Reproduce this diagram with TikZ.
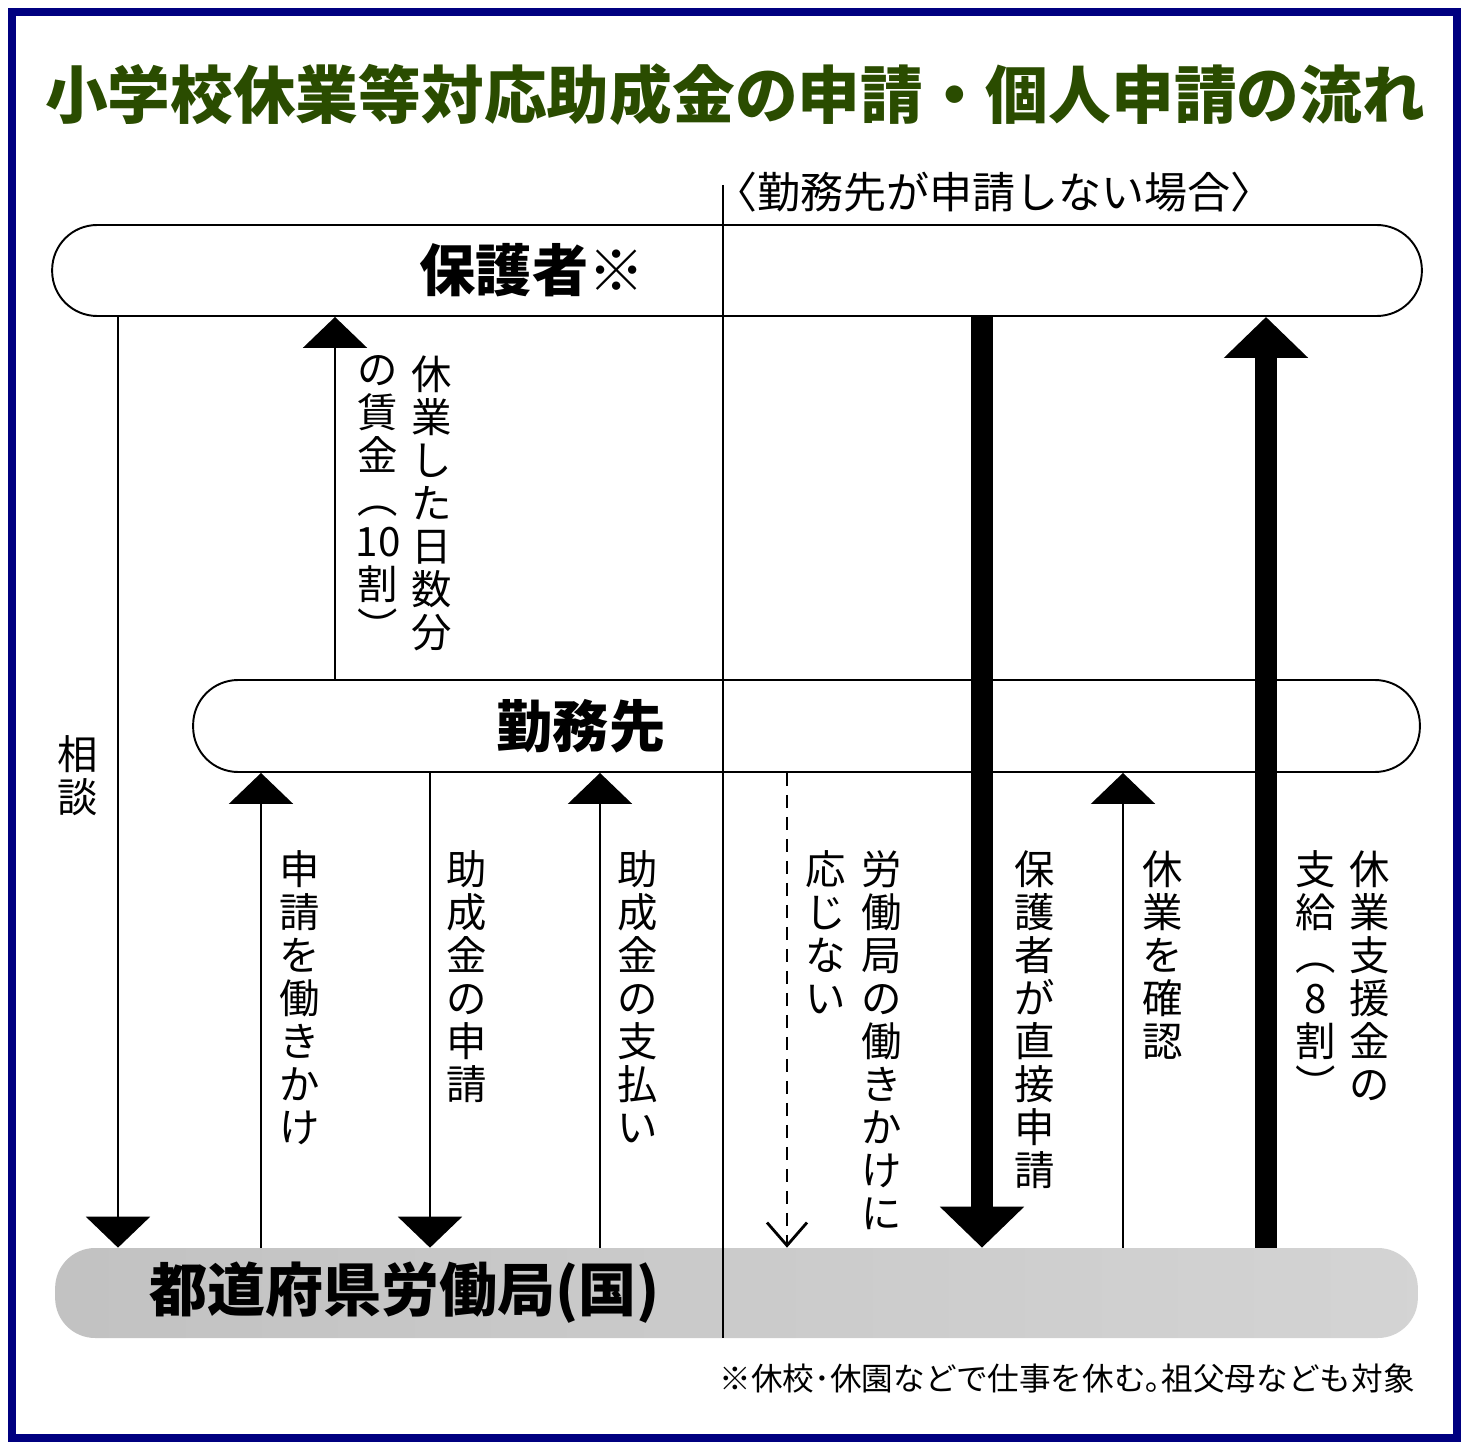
\documentclass[tikz,border=0pt]{standalone}
\usepackage{fontspec}
\newfontfamily\jp{Noto Sans CJK JP}
\usetikzlibrary{arrows.meta}
\definecolor{framenavy}{RGB}{0,0,128}
\definecolor{titlegreen}{RGB}{42,76,0}
\tikzset{
  box/.style={draw, line width=1.1pt, rounded corners=0.9cm, minimum height=1.82cm, inner sep=0pt},
  flow/.style={line width=1.4pt, -{Triangle[width=1.28cm,length=0.62cm]}},
  bigflow/.style={line width=0.44cm, -{Triangle[width=1.64cm,length=0.82cm]}},
  refuse/.style={line width=0.9pt, dash pattern=on 0.26cm off 0.18cm, -{Straight Barb[width=0.8cm,length=0.46cm,line width=1.6pt]}},
  vlabel/.style={font=\jp\fontsize{23}{24.5}\selectfont, align=center, anchor=north, inner sep=0pt},
  boxtext/.style={font=\jp\bfseries\fontsize{32}{36}\selectfont, inner sep=0pt},
}
\begin{document}
\begin{tikzpicture}[x=0.02cm, y=-0.02cm]
    \useasboundingbox (0,0) rectangle (1470,1452);
    % frame
    \draw[framenavy, line width=0.16cm] (12,12) rectangle (1457,1438);

    % title and headings
    \node[font=\jp\bfseries\fontsize{35.7}{40}\selectfont, text=titlegreen] (title) at (735,95)
        {小学校休業等対応助成金の申請・個人申請の流れ};
    \node[font=\jp\fontsize{24.5}{27}\selectfont, inner sep=0pt] (case) at (994,192) {〈勤務先が申請しない場合〉};

    % the three parties
    \node[box, minimum width=27.4cm] (guard) at (737,270.5) {};
    \node[box, minimum width=24.54cm, minimum height=1.84cm] (work) at (806.5,726) {};
    \node[rounded corners=0.8cm, left color=black!24, right color=black!17, minimum width=27.26cm,
          minimum height=1.8cm, inner sep=0pt] (bureau) at (736.5,1293) {};
    \node[boxtext] (guardname) at (532,270) {保護者※};
    \node[boxtext] (workname) at (581,726) {勤務先};
    \node[boxtext, font=\jp\bfseries\fontsize{33}{36}\selectfont] (bureauname) at (405,1293) {都道府県労働局(国)};

    % employer route
    \draw[flow] (guard.south -| 118,0) -- (bureau.north -| 118,0);
    \node[vlabel] (consult) at (78,735) {相\\談};
    \draw[flow] (work.north -| 335,0) -- (guard.south -| 335,0);
    \node[vlabel] (wage1) at (432,355) {休\\業\\し\\た\\日\\数\\分};
    \node[vlabel] (wage2) at (378,355) {の\\賃\\金\\︵\\10\\割\\︶};
    \draw[flow] (bureau.north -| 261,0) -- (work.south -| 261,0);
    \node[vlabel] (urge) at (300,850) {申\\請\\を\\働\\き\\か\\け};
    \draw[flow] (work.south -| 430,0) -- (bureau.north -| 430,0);
    \node[vlabel] (apply) at (467,850) {助\\成\\金\\の\\申\\請};
    \draw[flow] (bureau.north -| 600,0) -- (work.south -| 600,0);
    \node[vlabel] (pay) at (638,850) {助\\成\\金\\の\\支\\払\\い};

    % individual route
    \draw[refuse] (work.south -| 787,0) -- (bureau.north -| 787,0);
    \node[vlabel] (no1) at (882,850) {労\\働\\局\\の\\働\\き\\か\\け\\に};
    \node[vlabel] (no2) at (826,850) {応\\じ\\な\\い};
    \draw[bigflow] (guard.south -| 982,0) -- (bureau.north -| 982,0);
    \node[vlabel] (direct) at (1035,850) {保\\護\\者\\が\\直\\接\\申\\請};
    \draw[flow] (bureau.north -| 1123,0) -- (work.south -| 1123,0);
    \node[vlabel] (check) at (1163,850) {休\\業\\を\\確\\認};
    \draw[bigflow] (bureau.north -| 1266,0) -- (guard.south -| 1266,0);
    \node[vlabel] (grant1) at (1370,850) {休\\業\\支\\援\\金\\の};
    \node[vlabel] (grant2) at (1316,850) {支\\給\\︵\\8\\割\\︶};

    % divider
    \coordinate (divtop) at (723,185);
    \draw[line width=1pt] (divtop) -- (divtop |- bureau.south);

    % footnote
    \node[font=\jp\fontsize{18}{20}\selectfont, anchor=east, inner sep=0pt] (note) at (1415,1378)
        {※休校･休園などで仕事を休む｡祖父母なども対象};
\end{tikzpicture}
\end{document}
